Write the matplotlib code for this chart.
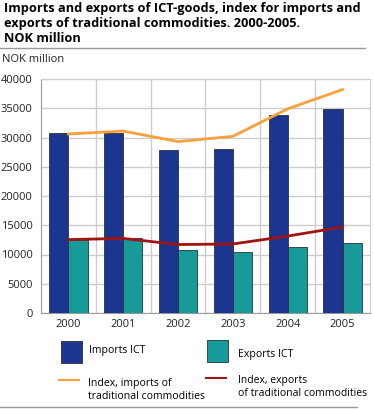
import numpy as np
import matplotlib.pyplot as plt
from matplotlib.patches import Rectangle
from matplotlib.lines import Line2D

plt.rcParams['font.family'] = ['Open Sans', 'DejaVu Sans']

years = ['2000', '2001', '2002', '2003', '2004', '2005']
imports_ict = [30700, 30800, 27900, 28100, 33900, 34800]
exports_ict = [12450, 12900, 10750, 10450, 11200, 12000]
index_imports = [30600, 31100, 29300, 30200, 34900, 38200]
index_exports = [12550, 12750, 11700, 11800, 13150, 14700]

c_imp = '#1b3590'
c_exp = '#18999a'
c_idx_imp = '#f7a03c'
c_idx_exp = '#a01414'

W, H = 374, 409
fig = plt.figure(figsize=(W / 100, H / 100), dpi=100)
ax = fig.add_axes([41 / W, 1 - 313 / H, 329 / W, 234 / H])

x = np.arange(len(years))
bw = 0.35
ax.bar(x - bw / 2, imports_ict, bw, color=c_imp, edgecolor='#303030', linewidth=0.6, zorder=3)
ax.bar(x + bw / 2, exports_ict, bw, color=c_exp, edgecolor='#303030', linewidth=0.6, zorder=3)
ax.plot(x, index_imports, color=c_idx_imp, linewidth=2, zorder=4)
ax.plot(x, index_exports, color=c_idx_exp, linewidth=2, zorder=4)

ax.set_xlim(-0.5, len(years) - 0.5)
ax.set_ylim(0, 40000)
ax.set_yticks(range(0, 40001, 5000))
ax.set_xticks(x)
ax.set_xticklabels(years)
ax.set_xticks(np.arange(0.5, len(years) - 0.5, 1), minor=True)
ax.grid(axis='y', color='#cccccc', linewidth=1, zorder=0)
ax.grid(axis='x', which='minor', color='#cccccc', linewidth=1, zorder=0)
ax.tick_params(axis='both', which='both', length=0, labelsize=8, colors='#222222')
ax.tick_params(axis='y', pad=6)
ax.tick_params(axis='x', pad=4)
for side in ['top', 'right']:
    ax.spines[side].set_color('#cccccc')
for side in ['left', 'bottom']:
    ax.spines[side].set_color('#999999')

# title and header
fig.text(4 / W, 1 - 2 / H,
         'Imports and exports of ICT-goods, index for imports and\n'
         'exports of traditional commodities. 2000-2005.\nNOK million',
         fontsize=9.2, fontweight='bold', va='top', ha='left', linespacing=1.22)
fig.add_artist(Line2D([0, 365 / W], [1 - 48 / H, 1 - 48 / H], color='#999999', linewidth=1))
fig.text(2 / W, 1 - 60 / H, 'NOK million', fontsize=8, va='center', ha='left', color='#222222')

# legend
fig.add_artist(Rectangle((61 / W, 1 - 363 / H), 21 / W, 22 / H, facecolor=c_imp, edgecolor='#303030', linewidth=0.6))
fig.text(89 / W, 1 - 351 / H, 'Imports ICT', fontsize=7.6, va='center', ha='left')
fig.add_artist(Rectangle((207 / W, 1 - 362 / H), 21 / W, 22 / H, facecolor=c_exp, edgecolor='#303030', linewidth=0.6))
fig.text(238 / W, 1 - 354 / H, 'Exports ICT', fontsize=7.6, va='center', ha='left')
fig.add_artist(Line2D([59 / W, 79 / W], [1 - 380 / H, 1 - 380 / H], color=c_idx_imp, linewidth=1.5))
fig.text(88 / W, 1 - 390 / H, 'Index, imports of\ntraditional commodities', fontsize=7.6, va='center', ha='left', linespacing=1.2)
fig.add_artist(Line2D([206 / W, 226 / W], [1 - 378 / H, 1 - 378 / H], color=c_idx_exp, linewidth=1.5))
fig.text(238 / W, 1 - 387 / H, 'Index, exports\nof traditional commodities', fontsize=7.5, va='center', ha='left', linespacing=1.2)
fig.add_artist(Line2D([0, 357 / W], [1 - 407 / H, 1 - 407 / H], color='#999999', linewidth=1))

fig.savefig('out.png', dpi=100)
